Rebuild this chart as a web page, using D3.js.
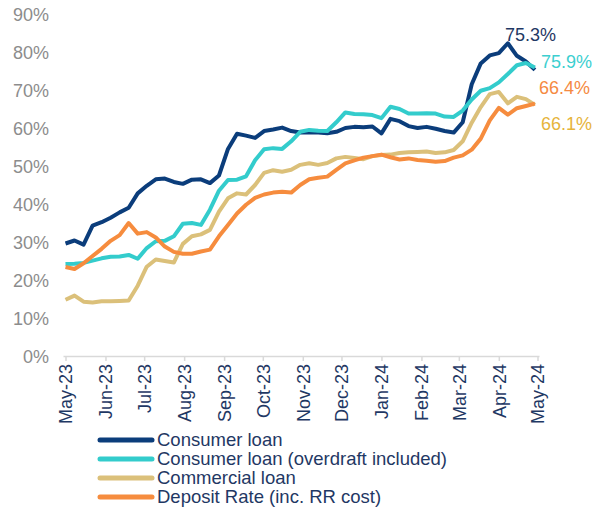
<!DOCTYPE html>
<html>
<head>
<meta charset="utf-8">
<script src="https://cdn.jsdelivr.net/npm/d3@7"></script>
<style>
  body { margin: 0; background: #fff; }
  text { font-family: Arial, 'Liberation Sans', sans-serif; }
  .ytick { fill: #8c8c8c; font-size: 18px; }
  .xtick { fill: #1f3864; font-size: 18px; }
  .legend { fill: #1f3864; font-size: 18.5px; }
  .endlabel { font-size: 18px; }
</style>
</head>
<body>
<div id="chart"></div>
<script>
// weekly observations, first one on 1 May 2023
var startDate = new Date(2023, 4, 1);
var nWeeks = 53;

var seriesNames = ['Consumer loan', 'Consumer loan (overdraft included)', 'Commercial loan', 'Deposit Rate (inc. RR cost)'];

var consumerLoan = [29.6, 30.4, 29.3, 34.3, 35.2, 36.4, 37.8, 39.0, 42.8, 44.8,
  46.5, 46.7, 45.8, 45.3, 46.4, 46.5, 45.5, 47.5, 54.5, 58.5,
  58.0, 57.4, 59.2, 59.6, 60.1, 59.2, 58.8, 58.9, 58.8, 58.6,
  59.0, 60.0, 60.3, 60.2, 60.4, 58.6, 62.4, 61.8, 60.5, 60.0,
  60.3, 59.8, 59.2, 58.8, 61.5, 71.5, 77.0, 79.1, 79.7, 82.3,
  79.0, 77.5, 75.3];

var consumerOverdraft = [24.2, 24.3, 24.5, 25.1, 25.7, 26.1, 26.2, 26.6, 25.6, 28.4,
  30.2, 30.3, 31.5, 34.8, 35.0, 34.5, 38.5, 43.5, 46.3, 46.4,
  47.3, 51.5, 54.4, 54.7, 54.5, 56.5, 59.0, 59.5, 59.3, 59.2,
  61.5, 64.1, 63.7, 63.6, 63.4, 62.6, 65.6, 65.0, 63.8, 63.8,
  63.9, 63.8, 63.0, 62.9, 64.6, 67.5, 69.8, 70.5, 72.0, 74.2,
  76.5, 77.1, 75.9];

var commercialLoan = [14.8, 15.9, 14.3, 14.1, 14.4, 14.4, 14.5, 14.6, 18.5, 23.5,
  25.4, 25.0, 24.6, 29.5, 31.5, 32.0, 33.2, 38.0, 41.5, 42.8,
  42.5, 45.0, 48.2, 48.9, 48.5, 49.0, 50.3, 50.7, 50.3, 50.8,
  52.0, 52.4, 52.1, 51.8, 52.6, 52.9, 53.0, 53.4, 53.6, 53.7,
  53.8, 53.4, 53.6, 54.2, 56.5, 61.4, 65.5, 68.9, 69.5, 66.5,
  68.2, 67.6, 66.1];

var depositRate = [23.4, 22.9, 24.4, 26.3, 28.2, 30.3, 31.8, 35.0, 32.2, 32.6,
  31.2, 28.8, 27.4, 26.9, 26.9, 27.5, 28.0, 31.5, 34.5, 37.5,
  39.8, 41.6, 42.5, 43.0, 43.2, 43.0, 45.0, 46.5, 46.9, 47.2,
  49.0, 50.7, 51.5, 52.2, 52.6, 53.0, 52.3, 51.7, 52.0, 51.6,
  51.4, 51.1, 51.3, 52.2, 52.8, 54.3, 57.2, 62.0, 65.3, 63.5,
  65.2, 65.8, 66.4];

var yTicks = [0, 10, 20, 30, 40, 50, 60, 70, 80, 90];
var monthTicks = ['2023-05-01', '2023-06-01', '2023-07-01', '2023-08-01', '2023-09-01', '2023-10-01',
  '2023-11-01', '2023-12-01', '2024-01-01', '2024-02-01', '2024-03-01', '2024-04-01', '2024-05-01'];

var width = 595;
var height = 514;

var colors = ['#0b3d7b', '#33cccc', '#dbc07a', '#f68c3e'];
var labelColors = ['#1f3864', '#3ccfd0', '#e6b43c', '#f58a42'];
// offsets of the end labels from each series' last point
var labelOffset = [[-30, -35], [6, -6], [6, 19], [4, -16]];

var weeks = d3.range(nWeeks).map(function(i) {
  return d3.timeDay.offset(startDate, i * 7);
});

var allSeries = [consumerLoan, consumerOverdraft, commercialLoan, depositRate];

var svg = d3.select('#chart').append('svg')
  .attr('width', width)
  .attr('height', height);

var parse = d3.timeParse('%Y-%m-%d');

// scales
var xScale = d3.scaleTime()
  .domain([parse(monthTicks[0]), parse(monthTicks[monthTicks.length - 1])])
  .range([65.5, 537.5]);

var yScale = d3.scaleLinear()
  .domain([0, 90])
  .range([356, 14]);

// y labels (no axis line, no grid)
var yAxis = d3.axisLeft(yScale)
  .tickValues(yTicks)
  .tickSize(0)
  .tickPadding(0)
  .tickFormat(function(d) { return d + '%'; });

var gy = svg.append('g')
  .attr('transform', 'translate(49,0)')
  .call(yAxis);
gy.select('.domain').remove();
gy.selectAll('text')
  .attr('class', 'ytick')
  .attr('font-family', null)
  .attr('font-size', null)
  .attr('fill', null)
  .attr('dy', '0.35em');

// x axis
var xAxis = d3.axisBottom(xScale)
  .tickValues(monthTicks.map(parse))
  .tickSize(5)
  .tickFormat(d3.timeFormat('%b-%y'));

var gx = svg.append('g')
  .attr('transform', 'translate(0,356)')
  .call(xAxis);
gx.select('.domain')
  .attr('stroke', '#d9d9d9')
  .attr('stroke-width', 1.5)
  .attr('d', 'M' + (xScale.range()[0] - 2) + ',0.5H' + (xScale.range()[1] + 2));
gx.selectAll('line')
  .attr('stroke', '#d9d9d9')
  .attr('stroke-width', 1.5);
gx.selectAll('text')
  .attr('class', 'xtick')
  .attr('font-family', null)
  .attr('font-size', null)
  .attr('fill', null)
  .attr('text-anchor', 'end')
  .attr('transform', 'rotate(-90)')
  .attr('x', -8)
  .attr('y', 0)
  .attr('dy', '0.35em');

// lines
var line = d3.line()
  .x(function(d, i) { return xScale(weeks[i]); })
  .y(function(d) { return yScale(d); });

svg.selectAll('.series')
  .data(allSeries)
  .enter()
  .append('path')
  .attr('class', 'series')
  .attr('fill', 'none')
  .attr('stroke', function(d, i) { return colors[i]; })
  .attr('stroke-width', 4)
  .attr('stroke-linejoin', 'round')
  .attr('d', line);

// end labels
svg.selectAll('.endlabel')
  .data(allSeries)
  .enter()
  .append('text')
  .attr('class', 'endlabel')
  .attr('x', function(d, i) { return xScale(weeks[nWeeks - 1]) + labelOffset[i][0]; })
  .attr('y', function(d, i) { return yScale(d[d.length - 1]) + labelOffset[i][1]; })
  .attr('dy', '0.35em')
  .attr('fill', function(d, i) { return labelColors[i]; })
  .text(function(d) { return d3.format('.1f')(d[d.length - 1]) + '%'; });

// legend
var legend = svg.append('g')
  .attr('transform', 'translate(98,440)')
  .selectAll('g')
  .data(seriesNames)
  .enter()
  .append('g')
  .attr('transform', function(d, i) { return 'translate(0,' + i * 19 + ')'; });

legend.append('line')
  .attr('x1', 2)
  .attr('x2', 54)
  .attr('stroke', function(d, i) { return colors[i]; })
  .attr('stroke-width', 5)
  .attr('stroke-linecap', 'round');

legend.append('text')
  .attr('class', 'legend')
  .attr('x', 59)
  .attr('dy', '0.35em')
  .text(function(d) { return d; });
</script>
</body>
</html>
